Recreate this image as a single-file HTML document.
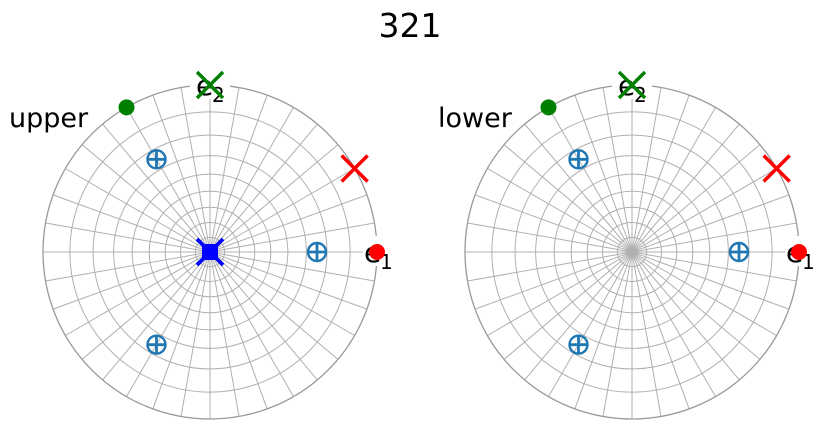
<!DOCTYPE html>
<html><head><meta charset="utf-8"><style>
html,body{margin:0;padding:0;background:#fff;}
svg{display:block;}
text{font-family:"DejaVu Sans","Liberation Sans",sans-serif;fill:#000;}
</style></head><body>
<svg id="s" width="828" height="438" viewBox="0 0 828 438" xmlns="http://www.w3.org/2000/svg">
<text x="410" y="37" font-size="33" text-anchor="middle">321</text>
<g id="g1"></g><g id="g2"></g>
<text x="9" y="127" font-size="27">upper</text>
<text x="438" y="127" font-size="27">lower</text>
</svg>
<script>
var NS="http://www.w3.org/2000/svg",R=167;
function el(p,t,a){var e=document.createElementNS(NS,t);for(var k in a)e.setAttribute(k,a[k]);p.appendChild(e);return e;}
function plot(g,cx,cy,center){
  for(var i=1;i<=8;i++){var r=R*Math.tan(i*5*Math.PI/180);
    el(g,"circle",{cx:cx,cy:cy,r:r,fill:"none",stroke:"#b0b0b0","stroke-width":1});}
  for(var a=0;a<360;a+=10){var t=a*Math.PI/180;
    el(g,"line",{x1:cx,y1:cy,x2:cx+R*Math.cos(t),y2:cy-R*Math.sin(t),stroke:"#b0b0b0","stroke-width":1});}
  el(g,"circle",{cx:cx,cy:cy,r:R,fill:"none",stroke:"#999","stroke-width":1.3});
  el(g,"rect",{x:cx+153,y:cy-16,width:34,height:30,fill:"#fff"});
  el(g,"rect",{x:cx-20,y:cy-R-14,width:40,height:28,fill:"#fff"});
  var t1=el(g,"text",{x:cx+154,y:cy+10,"font-size":28});t1.textContent="e";
  var s1=el(g,"text",{x:cx+170,y:cy+17,"font-size":20});s1.textContent="1";
  var t2=el(g,"text",{x:cx-14,y:cy-R+10,"font-size":28});t2.textContent="e";
  var s2=el(g,"text",{x:cx+2,y:cy-R+17,"font-size":20});s2.textContent="2";
  function X(x,y,c,h,w){el(g,"path",{d:"M"+(x-h)+" "+(y-h)+"L"+(x+h)+" "+(y+h)+"M"+(x-h)+" "+(y+h)+"L"+(x+h)+" "+(y-h),stroke:c,"stroke-width":w,fill:"none"});}
  function P(a,r){var t=a*Math.PI/180;return [cx+r*Math.cos(t),cy-r*Math.sin(t)];}
  var p=P(120,R);el(g,"circle",{cx:p[0],cy:p[1],r:8,fill:"#008000"});
  X(cx,cy-R,"#008000",13,3.5);
  p=P(30,R);X(p[0],p[1],"#ff0000",13,3.5);
  el(g,"circle",{cx:cx+R,cy:cy,r:8,fill:"#ff0000"});
  [120,0,240].forEach(function(a){var q=P(a,107);
    el(g,"circle",{cx:q[0],cy:q[1],r:9,fill:"none",stroke:"#1f77b4","stroke-width":2.4});
    el(g,"path",{d:"M"+(q[0]-9)+" "+q[1]+"H"+(q[0]+9)+"M"+q[0]+" "+(q[1]-9)+"V"+(q[1]+9),stroke:"#1f77b4","stroke-width":2.8});});
  if(center){el(g,"rect",{x:cx-8,y:cy-8,width:16,height:16,fill:"#0000ff"});X(cx,cy,"#0000ff",13,3.8);}
}
plot(document.getElementById("g1"),210,252,true);
plot(document.getElementById("g2"),632,252,false);
</script>
</body></html>
